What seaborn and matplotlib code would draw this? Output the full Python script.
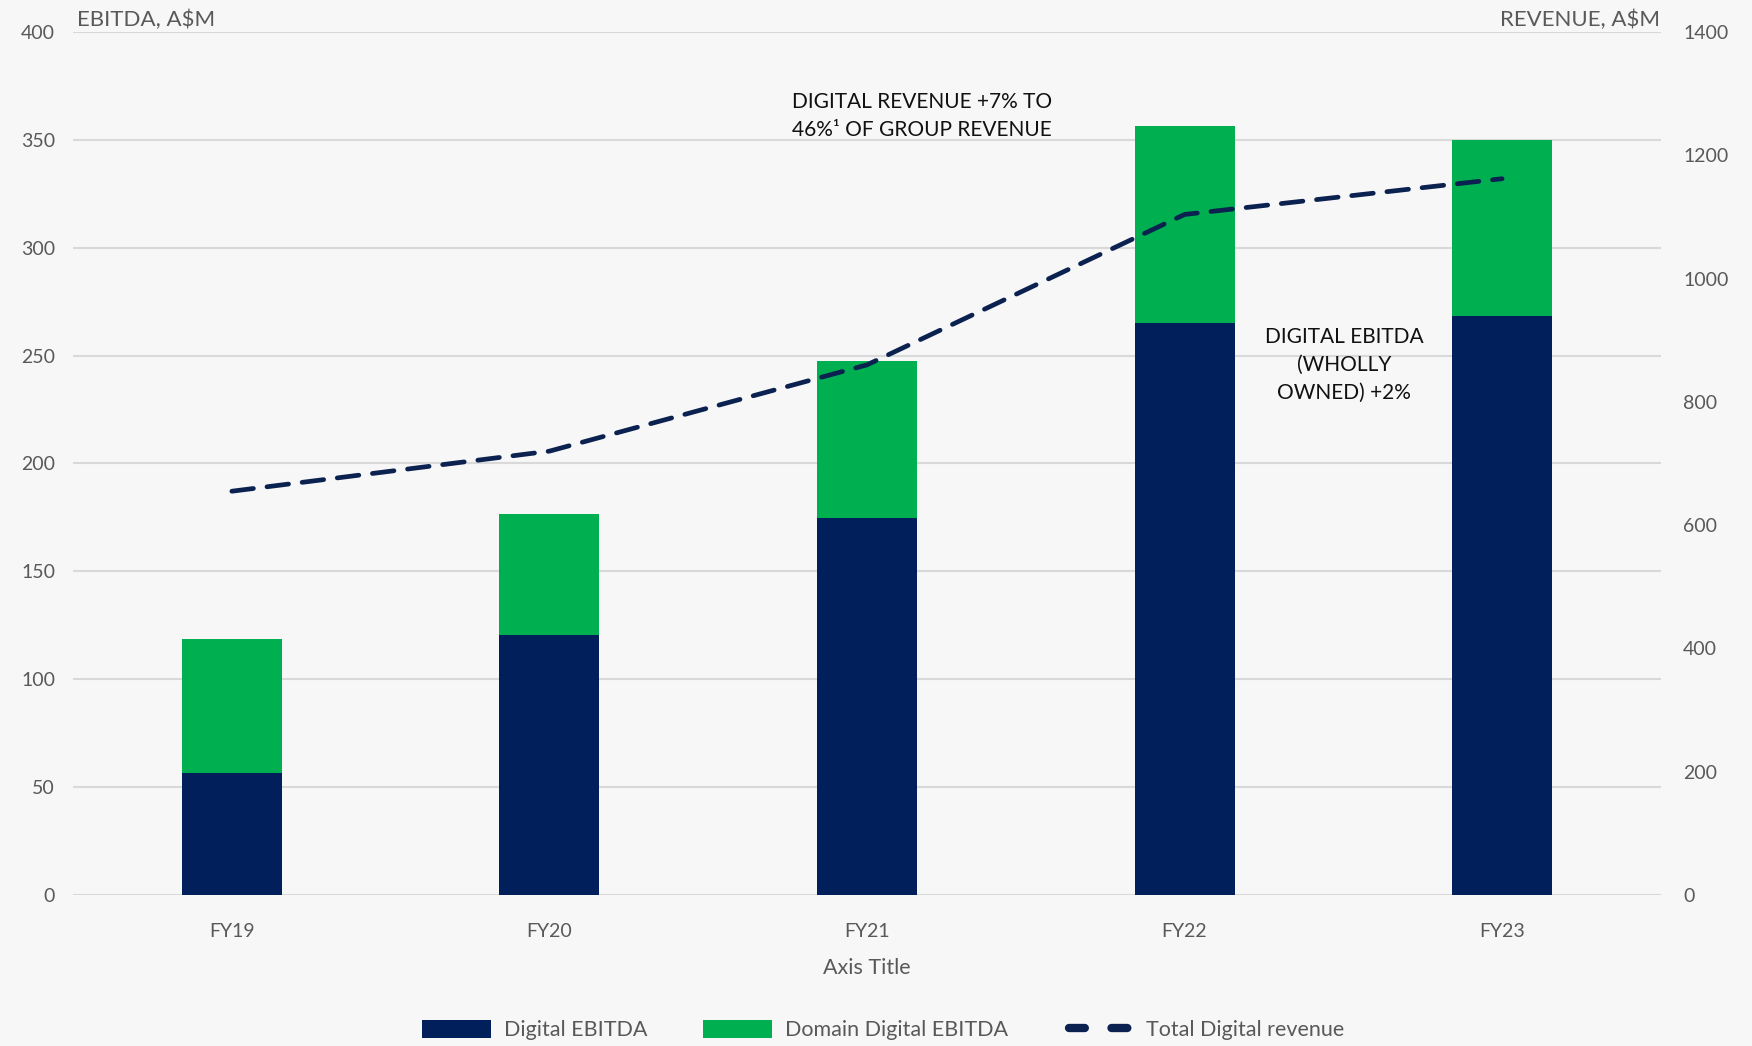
import numpy as np
import pandas as pd
import matplotlib
matplotlib.use("Agg")
import matplotlib.pyplot as plt
import seaborn as sns
from matplotlib.lines import Line2D
from matplotlib.patches import Patch

years = ["FY19", "FY20", "FY21", "FY22", "FY23"]
digital_ebitda = [56.5, 120.5, 174.5, 265.0, 268.5]
domain_ebitda = [62.0, 56.0, 73.0, 91.5, 81.5]
total_revenue = [655, 720, 860, 1104, 1162]

NAVY = "#001F5B"
GREEN = "#00B050"
LINE = "#0B2150"
BG = "#F7F7F7"
GRID = "#D9D9D9"
TICK = "#595959"

sns.set_theme(style="white")
plt.rcParams["font.family"] = ["Lato", "DejaVu Sans"]

df = pd.DataFrame({
    "year": years,
    "digital": digital_ebitda,
    "domain": domain_ebitda,
})
df["stack_top"] = df["digital"] + df["domain"]

fig = plt.figure(figsize=(17.52, 10.46), dpi=100, facecolor=BG)
ax = fig.add_axes([0.0417, 0.1444, 0.9063, 0.825])
ax.set_facecolor(BG)

# stacked bars: full stack in green, wholly-owned part in navy on top of it
sns.barplot(data=df, x="year", y="stack_top", color=GREEN, width=0.315,
            saturation=1, ax=ax, zorder=3, linewidth=0, edgecolor="none")
sns.barplot(data=df, x="year", y="digital", color=NAVY, width=0.315,
            saturation=1, ax=ax, zorder=4, linewidth=0, edgecolor="none")

ax.set_xlim(-0.5, len(years) - 0.5)
ax.set_ylim(0, 400)
ax.set_yticks(np.arange(0, 401, 50))
ax.yaxis.grid(True, color=GRID, linewidth=1.5, zorder=0)
ax.set_axisbelow(True)
for s in ax.spines.values():
    s.set_visible(False)
ax.tick_params(axis="both", length=0, colors=TICK, labelsize=14)
ax.tick_params(axis="x", pad=20)
ax.tick_params(axis="y", pad=13)
ax.set_ylabel("")
ax.set_xlabel("Axis Title", fontsize=15.5, color=TICK, labelpad=13)

# revenue line on the secondary axis
ax2 = ax.twinx()
sns.lineplot(x=np.arange(len(years)), y=total_revenue, ax=ax2, color=LINE,
             linewidth=3.4, zorder=5)
ln = ax2.get_lines()[0]
ln.set_dashes((4.6, 2.9))
ln.set_dash_capstyle("round")
ax2.set_ylim(0, 1400)
ax2.set_yticks(np.arange(0, 1401, 200))
for s in ax2.spines.values():
    s.set_visible(False)
ax2.tick_params(axis="y", length=0, colors=TICK, labelsize=14, pad=16)
ax2.grid(False)

fig.text(77 / 1752, 1 - 20 / 1046, "EBITDA, A$M", fontsize=16, color=TICK,
         ha="left", va="center")
fig.text(1660 / 1752, 1 - 20 / 1046, "REVENUE, A$M", fontsize=16, color=TICK,
         ha="right", va="center")

fig.text(922 / 1752, 1 - 116 / 1046,
         "DIGITAL REVENUE +7% TO\n46%\u00b9 OF GROUP REVENUE",
         fontsize=15, color="#111111", ha="center", va="center",
         linespacing=1.45)
fig.text(1344 / 1752, 1 - 365 / 1046,
         "DIGITAL EBITDA\n(WHOLLY\nOWNED) +2%",
         fontsize=15, color="#111111", ha="center", va="center",
         linespacing=1.5)

handles = [
    Patch(facecolor=NAVY, edgecolor="none", label="Digital EBITDA"),
    Patch(facecolor=GREEN, edgecolor="none", label="Domain Digital EBITDA"),
    Line2D([0], [0], color=LINE, linewidth=6, linestyle=(-0.6, (1.9, 3.2)),
           dash_capstyle="round", label="Total Digital revenue"),
]
leg = fig.legend(handles=handles, loc="center", bbox_to_anchor=(883 / 1752, 1 - 1030 / 1046),
                 ncol=3, frameon=False, fontsize=15.5, handlelength=3.2,
                 handleheight=0.9, columnspacing=2.6, handletextpad=0.6)
for t in leg.get_texts():
    t.set_color(TICK)

fig.savefig("out.png", dpi=100, facecolor=BG)
